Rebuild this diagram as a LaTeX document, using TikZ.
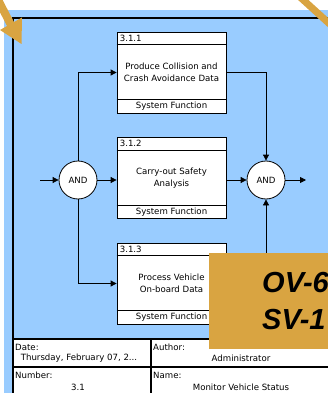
\documentclass[tikz,border=0pt]{standalone}
\usepackage{fontspec}
\setmainfont{DejaVu Sans}
\newfontfamily\arialf{Liberation Sans}
\usetikzlibrary{arrows.meta}
\definecolor{skyb}{HTML}{99CCFF}
\definecolor{gold}{HTML}{D9A441}
\tikzset{
  fbox/.style={draw, line width=0.8pt, fill=white, minimum width=109pt, minimum height=81pt, inner sep=0pt, align=center, font=\fontsize{8.6}{12.2}\selectfont},
  andnode/.style={draw, line width=0.8pt, fill=white, circle, minimum size=38pt, inner sep=0pt, font=\fontsize{8.6}{10}\selectfont},
  arr/.style={line width=0.8pt, -{Triangle[length=6pt,width=6pt]}},
  conn/.style={line width=0.8pt},
  small/.style={font=\fontsize{8.6}{10}\selectfont, inner sep=0pt},
  lbl/.style={font=\fontsize{8.6}{10}\selectfont, inner sep=0pt},
  big/.style={font=\arialf\bfseries\itshape\fontsize{29}{30}\selectfont, inner sep=0pt, anchor=west}
}
\begin{document}
\begin{tikzpicture}[x=1pt,y=-1pt]
\useasboundingbox (0,0) rectangle (328,393);
\begin{scope}
\clip (0,0) rectangle (328,393);
\fill[skyb] (4,10) rectangle (335,400);
% frame
\draw[line width=1.3pt] (13,400) -- (13,18) -- (335,18);
% boxes
\node[fbox] (b1) at (171.5,72.5) {Produce Collision and\\Crash Avoidance Data};
\node[fbox] (b2) at (171.5,178) {Carry-out Safety\\Analysis};
\node[fbox] (b3) at (171.5,283.5) {Process Vehicle\\On-board Data};
\foreach \b/\n in {b1/3.1.1,b2/3.1.2,b3/3.1.3}{
  \draw[conn] ([yshift=-13pt]\b.north west) -- ([yshift=-13pt]\b.north east);
  \draw[conn] ([yshift=14pt]\b.south west) -- ([yshift=14pt]\b.south east);
  \node[small, anchor=west] at ([xshift=3pt,yshift=-6.5pt]\b.north west) {\n};
  \node[small] at ([yshift=7pt]\b.south) {System Function};
}
% AND nodes
\node[andnode] (a1) at (78,180) {AND};
\node[andnode] (a2) at (266,180) {AND};
\coordinate (in) at (40,180);
\coordinate (out) at (306,180);
\draw[arr] (in) -- (a1.west);
\draw[arr] (a1.east) -- (a1.east -| b2.west);
\draw[arr] (a1.north) |- (b1.west);
\draw[arr] (a1.south) |- (b3.west);
\draw[arr] (b2.east |- a2) -- (a2.west);
\draw[arr] (b1.east) -| (a2.north);
\draw[arr] (b3.east) -| (a2.south);
\draw[arr] (a2.east) -- (out);
% table
\fill[white] (13,339) rectangle (335,400);
\draw[line width=1.3pt] (13,339) -- (335,339);
\draw[line width=1.3pt] (13,367) -- (335,367);
\draw[line width=1.3pt] (151,339) -- (151,400);
\draw[line width=1.3pt] (13,330) -- (13,400);
\node[lbl, anchor=west] at (15,347.5) {Date:};
\node[lbl] at (79,358.5) {Thursday, February 07, 2...};
\node[lbl, anchor=west] at (153,347.5) {Author:};
\node[lbl] at (241,358.5) {Administrator};
\node[lbl, anchor=west] at (15,375.5) {Number:};
\node[lbl] at (78,387) {3.1};
\node[lbl, anchor=west] at (153,375.5) {Name:};
\node[lbl] at (241,387) {Monitor Vehicle Status};
% orange overlay
\fill[gold] (209,253) rectangle (335,349);
\node[big] at (262,282.5) {OV-6};
\node[big] at (262,319.5) {SV-1};
% orange arrows
\draw[gold, line width=8pt] (-6,-8) -- (11,25);
\fill[gold] (0,30) -- (22,17.5) -- (21.5,44) -- cycle;
\draw[gold, line width=7pt] (300,-3) -- (333,27);
\end{scope}
\end{tikzpicture}
\end{document}
